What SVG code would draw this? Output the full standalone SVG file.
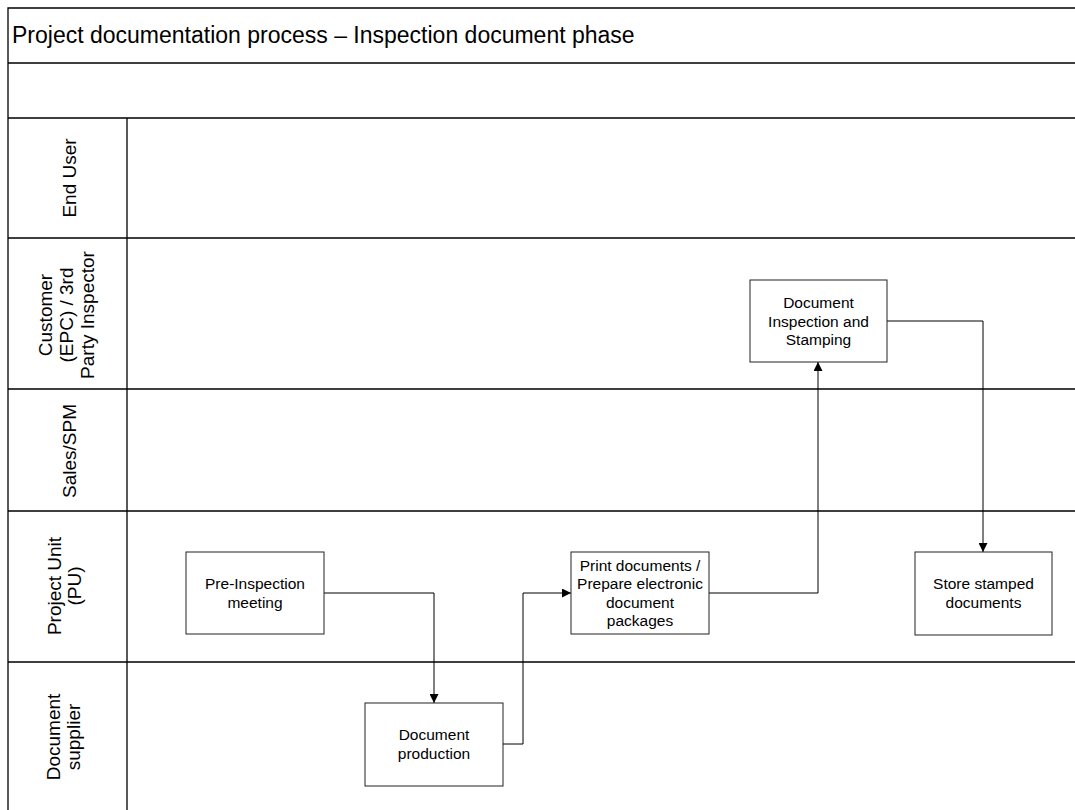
<svg xmlns="http://www.w3.org/2000/svg" width="1075" height="810" viewBox="0 0 1075 810">
<style>
.frame{stroke:#000;stroke-width:1.3;fill:none}
.box{fill:#fff;stroke:#222;stroke-width:1}
.t{font-family:"Liberation Sans",Arial,sans-serif;font-size:15.5px;fill:#000;text-anchor:middle}
.lane{font-family:"Liberation Sans",Arial,sans-serif;font-size:19px;fill:#000;text-anchor:middle}
.title{font-family:"Liberation Sans",Arial,sans-serif;font-size:23px;fill:#000}
.conn{stroke:#000;stroke-width:1;fill:none;marker-end:url(#arr)}
</style>
<defs>
<marker id="arr" viewBox="0 0 10 10" refX="10" refY="5" markerWidth="9" markerHeight="9" markerUnits="userSpaceOnUse" orient="auto">
<path d="M0,0 L10,5 L0,10 z" fill="#000"/>
</marker>
</defs>
<rect width="1075" height="810" fill="#fff"/>
<g id="frame">
<path class="frame" d="M8,810 V8 H1075 M8,63 H1075 M8,118 H1075 M8,238 H1075 M8,389 H1075 M8,511 H1075 M8,662 H1075 M127,118 V810"/>
<text class="title" x="12" y="43">Project documentation process – Inspection document phase</text>
</g>
<g id="lane-end-user"><text class="lane" transform="translate(76,178) rotate(-90)">End User</text></g>
<g id="lane-customer"><text class="lane" transform="translate(52,315) rotate(-90)"><tspan x="0" y="0">Customer</tspan><tspan x="0" y="21">(EPC) / 3rd</tspan><tspan x="0" y="42">Party Inspector</tspan></text></g>
<g id="lane-sales"><text class="lane" transform="translate(76,451) rotate(-90)">Sales/SPM</text></g>
<g id="lane-pu"><text class="lane" transform="translate(61,586) rotate(-90)"><tspan x="0" y="0">Project Unit</tspan><tspan x="0" y="20">(PU)</tspan></text></g>
<g id="lane-supplier"><text class="lane" transform="translate(60,737) rotate(-90)"><tspan x="0" y="0">Document</tspan><tspan x="0" y="20">supplier</tspan></text></g>
<g id="connectors">
<path class="conn" d="M324,593 H434 V703"/>
<path class="conn" d="M503,744 H523 V593 H571"/>
<path class="conn" d="M709,593 H818 V362"/>
<path class="conn" d="M887,321 H983 V552"/>
</g>
<g id="node-inspection"><rect class="box" x="750" y="280" width="137" height="82"/><text class="t" x="818.5" y="308"><tspan x="818.5">Document</tspan><tspan x="818.5" dy="18.5">Inspection and</tspan><tspan x="818.5" dy="18.5">Stamping</tspan></text></g>
<g id="node-preinspection"><rect class="box" x="186" y="552" width="138" height="82"/><text class="t" y="589"><tspan x="255">Pre-Inspection</tspan><tspan x="255" dy="18.5">meeting</tspan></text></g>
<g id="node-print"><rect class="box" x="571" y="552" width="138" height="82"/><text class="t" y="570.5"><tspan x="640">Print documents /</tspan><tspan x="640" dy="18.5">Prepare electronic</tspan><tspan x="640" dy="18.5">document</tspan><tspan x="640" dy="18.5">packages</tspan></text></g>
<g id="node-store"><rect class="box" x="915" y="552" width="137" height="83"/><text class="t" y="589"><tspan x="983.5">Store stamped</tspan><tspan x="983.5" dy="18.5">documents</tspan></text></g>
<g id="node-production"><rect class="box" x="365" y="703" width="138" height="83"/><text class="t" y="740"><tspan x="434">Document</tspan><tspan x="434" dy="18.5">production</tspan></text></g>
</svg>
